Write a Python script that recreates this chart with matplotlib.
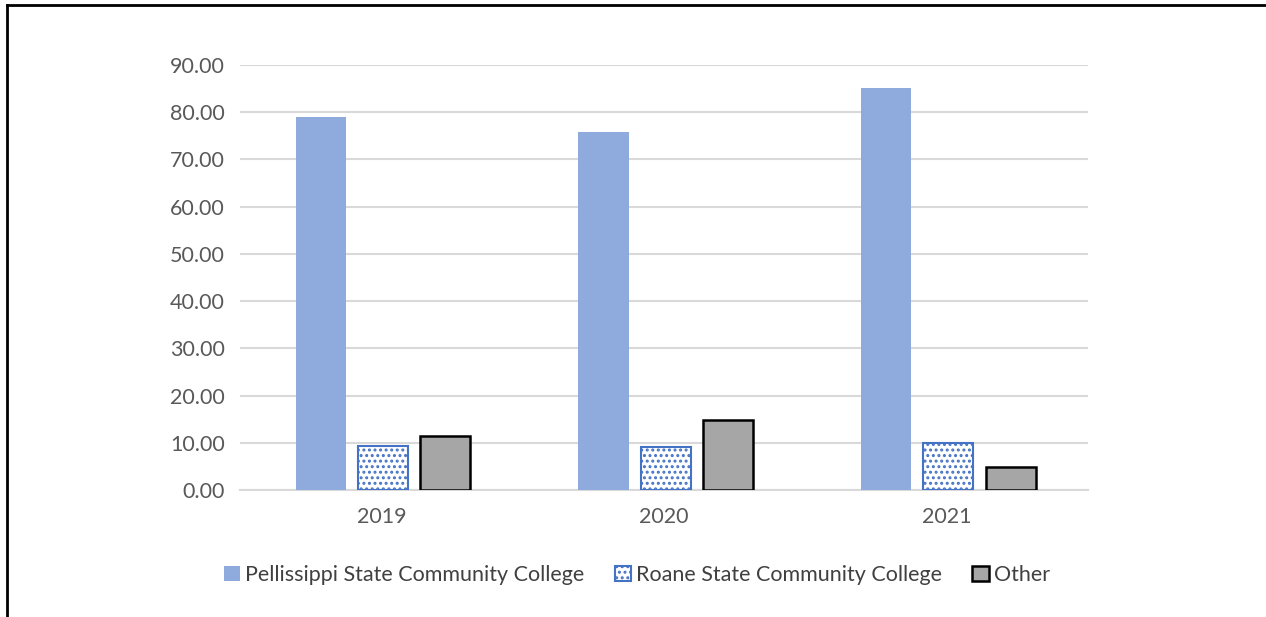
import matplotlib.pyplot as plt
import numpy as np
from matplotlib.lines import Line2D

plt.rcParams['font.family'] = ['Lato', 'DejaVu Sans']
plt.rcParams['hatch.linewidth'] = 1.4

years = ['2019', '2020', '2021']
pellissippi = [79.0, 75.8, 85.1]
roane = [9.3, 9.1, 10.0]
other = [11.4, 14.8, 4.9]

fig = plt.figure(figsize=(12.66, 6.17), dpi=100)
ax = fig.add_axes([240 / 1266, 1 - 490 / 617, 848 / 1266, 425 / 617])

x = np.arange(len(years))
w = 0.177
step = 0.22

ax.bar(x - step + 0.006, pellissippi, w, color='#8FAADC', label='Pellissippi State Community College', zorder=3)
plt.rcParams['hatch.color'] = '#4472C4'
ax.bar(x + 0.006, roane, w, facecolor='white', edgecolor='#4472C4', hatch='...', linewidth=1.5,
       label='Roane State Community College', zorder=3)
ax.bar(x + step + 0.006, other, w, facecolor='#A6A6A6', edgecolor='black', linewidth=1.8,
       label='Other', zorder=3)

ax.set_xlim(-0.5, 2.5)
ax.set_ylim(0, 90)
ax.set_yticks(np.arange(0, 91, 10))
ax.set_yticklabels(['%.2f' % v for v in np.arange(0, 91, 10)])
ax.set_xticks(x)
ax.set_xticklabels(years)
ax.tick_params(length=0, labelsize=15.5, colors='#595959', pad=11)
ax.tick_params(axis='x', pad=12)
ax.grid(axis='y', color='#D9D9D9', linewidth=1.5, zorder=0)
for s in ['top', 'right', 'left']:
    ax.spines[s].set_visible(False)
ax.spines['bottom'].set_color('#D9D9D9')
ax.spines['bottom'].set_linewidth(1.5)

fig.legend(loc='center', bbox_to_anchor=(637 / 1266, 1 - 575 / 617), ncol=3, frameon=False,
           fontsize=15.5, handlelength=0.75, handleheight=0.75, handletextpad=0.25,
           columnspacing=1.4, labelcolor='#404040')

# page frame
fig.add_artist(Line2D([7 / 1266, 1], [1 - 5 / 617, 1 - 5 / 617], color='black', lw=2))
fig.add_artist(Line2D([7 / 1266, 7 / 1266], [0, 1 - 5 / 617], color='black', lw=2))

fig.savefig('out.png', dpi=100)
